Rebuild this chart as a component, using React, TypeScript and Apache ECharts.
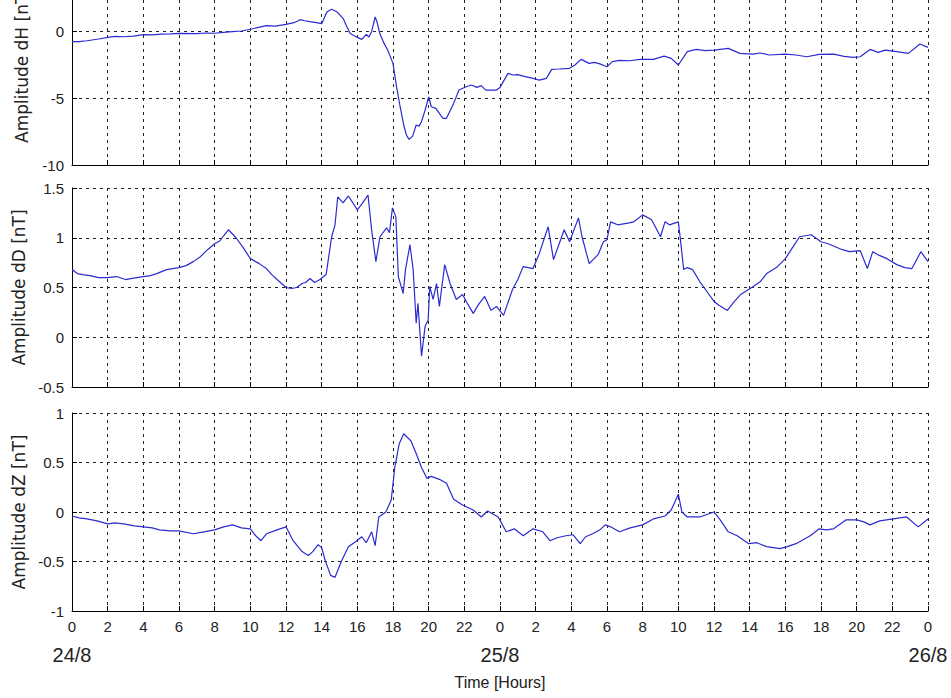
import React, { useEffect, useRef } from "react";
import * as echarts from "echarts";

// [hour since 24/8 00:00, amplitude nT]
const dHSeries: number[][] = [
  [0, -0.75], [0.4, -0.74], [0.84, -0.68], [1.5, -0.55], [2, -0.43], [2.4, -0.35], [2.9, -0.38],
  [3.45, -0.33], [4, -0.22], [4.5, -0.24], [5, -0.18], [5.5, -0.16], [6, -0.13], [7, -0.15],
  [7.5, -0.1], [8, -0.12], [8.5, -0.05], [9, 0], [9.5, 0.05], [10, 0.18], [10.4, 0.3], [10.9, 0.45],
  [11.4, 0.42], [12, 0.55], [12.5, 0.7], [12.8, 0.9], [13.05, 0.82], [13.35, 0.75], [13.7, 0.68],
  [14, 0.6], [14.2, 1.2], [14.3, 1.5], [14.56, 1.68], [14.84, 1.5], [15.2, 1.0], [15.4, 0.4],
  [15.6, -0.13], [16, -0.43], [16.25, -0.58], [16.4, -0.35], [16.5, -0.2], [16.65, -0.4], [16.8, 0],
  [17, 1.1], [17.1, 0.75], [17.26, -0.13], [17.5, -0.88], [17.7, -1.38], [18, -2.38], [18.2, -4.13],
  [18.4, -5.63], [18.6, -7.0], [18.75, -7.75], [18.9, -8.08], [19.1, -7.83], [19.3, -7.0],
  [19.45, -7.1], [19.6, -6.75], [19.8, -5.88], [20, -4.9], [20.15, -5.63], [20.4, -5.75],
  [20.8, -6.5], [21, -6.5], [21.4, -5.38], [21.7, -4.38], [22.1, -4.13], [22.4, -4.0],
  [22.7, -4.18], [22.95, -4.05], [23.2, -4.38], [23.8, -4.38], [24, -4.18], [24.45, -3.13],
  [24.73, -3.25], [25.0, -3.22], [25.3, -3.33], [25.85, -3.5], [26.2, -3.63], [26.6, -3.5],
  [26.9, -2.83], [27.3, -2.8], [27.9, -2.75], [28.2, -2.5], [28.55, -2.08], [29, -2.38],
  [29.3, -2.3], [29.6, -2.42], [30, -2.63], [30.3, -2.25], [30.7, -2.15], [31.26, -2.18],
  [31.85, -2.08], [32.6, -2.08], [33.2, -1.83], [33.6, -2.0], [34, -2.5], [34.5, -1.5], [35, -1.33],
  [35.5, -1.42], [36, -1.38], [36.8, -1.25], [37.45, -1.63], [38.2, -1.68], [38.6, -1.6],
  [39.1, -1.75], [40, -1.68], [40.6, -1.75], [41.2, -1.88], [41.9, -1.7], [42.7, -1.68],
  [43.3, -1.85], [43.8, -1.93], [44.2, -1.88], [44.75, -1.33], [45.2, -1.55], [45.6, -1.38],
  [46.25, -1.5], [46.9, -1.63], [47.55, -0.93], [48, -1.18],
];

const dDSeries: number[][] = [
  [0, 0.68], [0.3, 0.64], [0.6, 0.63], [1, 0.62], [1.5, 0.6], [2, 0.6], [2.5, 0.61], [3, 0.58],
  [3.3, 0.59], [4, 0.61], [4.4, 0.62], [4.75, 0.64], [5.3, 0.68], [6, 0.7], [6.4, 0.72], [6.8, 0.76],
  [7.2, 0.81], [7.6, 0.88], [8, 0.94], [8.3, 0.97], [8.5, 1.02], [8.77, 1.08], [9.2, 1.0], [9.6, 0.9],
  [10, 0.79], [10.5, 0.74], [10.9, 0.69], [11.2, 0.63], [11.5, 0.58], [12, 0.5], [12.3, 0.49],
  [12.6, 0.5], [12.9, 0.54], [13.1, 0.55], [13.35, 0.59], [13.6, 0.55], [13.9, 0.58], [14.25, 0.63],
  [14.56, 1.01], [14.75, 1.13], [14.9, 1.41], [15.05, 1.38], [15.2, 1.35], [15.5, 1.42], [16, 1.28],
  [16.3, 1.35], [16.6, 1.43], [16.8, 1.08], [17.04, 0.76], [17.27, 1.01], [17.64, 1.1], [17.8, 1.05],
  [17.97, 1.3], [18.16, 1.21], [18.3, 0.61], [18.57, 0.44], [18.7, 0.68], [18.95, 0.93], [19.13, 0.68],
  [19.3, 0.14], [19.4, 0.34], [19.6, -0.19], [19.8, 0.11], [19.97, 0.17], [20.06, 0.51], [20.25, 0.38],
  [20.44, 0.54], [20.6, 0.31], [20.9, 0.73], [21.2, 0.54], [21.55, 0.38], [21.9, 0.43], [22.2, 0.33],
  [22.5, 0.24], [22.8, 0.33], [23.14, 0.41], [23.5, 0.27], [23.8, 0.31], [24.2, 0.22], [24.7, 0.48],
  [25.0, 0.58], [25.3, 0.71], [25.85, 0.69], [26.2, 0.84], [26.7, 1.11], [27, 0.78], [27.6, 1.08],
  [27.9, 0.96], [28.4, 1.2], [28.6, 1.01], [29, 0.74], [29.5, 0.83], [29.8, 0.96], [30, 0.98],
  [30.2, 1.16], [30.6, 1.13], [31.25, 1.15], [31.5, 1.16], [32, 1.23], [32.5, 1.18], [33, 1.01],
  [33.25, 1.16], [33.5, 1.13], [34, 1.16], [34.1, 1.01], [34.3, 0.68], [34.5, 0.7], [34.8, 0.68],
  [35.2, 0.56], [35.6, 0.46], [36, 0.36], [36.3, 0.32], [36.75, 0.27], [37.1, 0.35], [37.5, 0.43],
  [38.2, 0.51], [38.6, 0.56], [38.95, 0.64], [39.5, 0.7], [40, 0.79], [40.4, 0.9], [40.8, 1.01],
  [41.45, 1.03], [42, 0.96], [42.4, 0.94], [42.8, 0.91], [43.2, 0.88], [43.6, 0.86], [44.2, 0.87],
  [44.6, 0.69], [44.9, 0.86], [45.3, 0.82], [45.7, 0.79], [46.25, 0.73], [46.7, 0.7], [47.1, 0.69],
  [47.6, 0.86], [48, 0.76],
];

const dZSeries: number[][] = [
  [0, -0.04], [0.4, -0.06], [0.84, -0.07], [1.4, -0.09], [2, -0.12], [2.4, -0.11], [2.9, -0.12],
  [3.5, -0.14], [4, -0.15], [4.5, -0.16], [4.9, -0.18], [5.5, -0.19], [6, -0.19], [6.8, -0.22],
  [7.4, -0.2], [8, -0.18], [8.5, -0.15], [9, -0.13], [9.5, -0.16], [10, -0.17], [10.3, -0.24],
  [10.6, -0.29], [10.9, -0.22], [11.5, -0.18], [12, -0.15], [12.4, -0.29], [12.9, -0.4],
  [13.25, -0.44], [13.5, -0.4], [13.8, -0.33], [14.0, -0.36], [14.2, -0.49], [14.5, -0.64],
  [14.75, -0.66], [15.1, -0.5], [15.5, -0.35], [15.9, -0.3], [16.25, -0.25], [16.5, -0.31],
  [16.8, -0.2], [17, -0.34], [17.2, -0.05], [17.6, 0], [17.9, 0.12], [18.1, 0.45], [18.35, 0.69],
  [18.6, 0.79], [19, 0.72], [19.3, 0.59], [19.6, 0.45], [19.9, 0.34], [20.15, 0.36], [20.6, 0.33],
  [21, 0.29], [21.4, 0.13], [21.9, 0.07], [22.5, 0.02], [22.95, -0.05], [23.3, 0.01], [23.9, -0.05],
  [24.35, -0.2], [24.8, -0.17], [25.3, -0.24], [25.85, -0.17], [26.4, -0.2], [26.8, -0.29],
  [27.2, -0.26], [27.7, -0.24], [28.1, -0.23], [28.5, -0.32], [28.8, -0.25], [29.2, -0.22],
  [29.6, -0.18], [29.9, -0.13], [30.2, -0.15], [30.7, -0.2], [31.3, -0.16], [32, -0.13],
  [32.6, -0.07], [33.25, -0.04], [33.6, 0.02], [34, 0.18], [34.2, 0], [34.5, -0.05], [35.2, -0.05],
  [36, 0], [36.35, -0.08], [36.8, -0.2], [37.3, -0.24], [37.95, -0.32], [38.4, -0.31],
  [38.95, -0.35], [39.7, -0.37], [40.1, -0.35], [40.6, -0.32], [41.4, -0.24], [41.9, -0.17],
  [42.3, -0.18], [42.7, -0.17], [43.4, -0.08], [44, -0.08], [44.4, -0.1], [44.75, -0.13],
  [45.3, -0.09], [46.05, -0.07], [46.8, -0.05], [47.45, -0.15], [48, -0.07],
];

const panelNames = ["Amplitude dH [nT]", "Amplitude dD [nT]", "Amplitude dZ [nT]"];
const yRanges = [
  { min: -10, max: 5, interval: 5 },
  { min: -0.5, max: 1.5, interval: 0.5 },
  { min: -1, max: 1, interval: 0.5 },
];
const dateLabels = ["24/8", "25/8", "26/8"];
const xTitle = "Time [Hours]";

const FONT = "'Liberation Sans', Arial, Helvetica, sans-serif";
const LINE_COLOR = "#2b2bcf";
const CROP = 35; // the reference figure is cut off at the top

export default function App() {
  const ref = useRef<HTMLDivElement>(null);
  useEffect(() => {
    const chart = echarts.init(ref.current!, null, { renderer: "svg" });
    const grids = [
      { left: 72, right: 23, top: CROP - 35, height: 200, outerBoundsMode: "none" },
      { left: 72, right: 23, top: CROP + 188, height: 199, outerBoundsMode: "none" },
      { left: 72, right: 23, top: CROP + 413, height: 198, outerBoundsMode: "none" },
    ];
    const dashed = { show: true, lineStyle: { color: "#222", width: 1, type: [3, 4] as any } };
    const xAxes: any[] = [0, 1, 2].map((i) => ({
      type: "value",
      gridIndex: i,
      min: 0,
      max: 48,
      interval: 2,
      axisLine: { show: true, onZero: false, lineStyle: { color: "#000", width: 1 } },
      axisTick: { show: true, inside: true, length: 5, lineStyle: { color: "#000" } },
      axisLabel: {
        show: i === 2,
        margin: 8,
        fontSize: 15,
        color: "#222",
        fontFamily: FONT,
        formatter: (v: number) => String(v % 24),
      },
      splitLine: dashed,
      name: i === 2 ? xTitle : "",
      nameLocation: "middle",
      nameGap: 63,
      nameTextStyle: { fontSize: 16, color: "#222", fontFamily: FONT },
    }));
    xAxes.push({
      type: "value",
      gridIndex: 2,
      min: 0,
      max: 48,
      interval: 24,
      position: "bottom",
      axisLine: { show: false },
      axisTick: { show: false },
      splitLine: { show: false },
      axisLabel: {
        show: true,
        margin: 34,
        fontSize: 20,
        color: "#222",
        fontFamily: FONT,
        formatter: (v: number) => dateLabels[Math.round(v / 24)],
      },
    });
    const yAxes = [0, 1, 2].map((i) => ({
      type: "value",
      gridIndex: i,
      min: yRanges[i].min,
      max: yRanges[i].max,
      interval: yRanges[i].interval,
      axisLine: { show: true, onZero: false, lineStyle: { color: "#000", width: 1 } },
      axisTick: { show: true, inside: true, length: 5, lineStyle: { color: "#000" } },
      axisLabel: { margin: 8, fontSize: 15, color: "#222", fontFamily: FONT },
      splitLine: dashed,
      name: panelNames[i],
      nameLocation: "middle",
      nameGap: 42,
      nameTextStyle: { fontSize: 17, color: "#222", fontFamily: "'DejaVu Sans', sans-serif" },
    }));
    const datas = [dHSeries, dDSeries, dZSeries];
    chart.setOption({
      animation: false,
      backgroundColor: "#fff",
      grid: grids,
      xAxis: xAxes,
      yAxis: yAxes,
      series: datas.map((d, i) => ({
        type: "line",
        xAxisIndex: i,
        yAxisIndex: i,
        data: d,
        showSymbol: false,
        lineStyle: { color: LINE_COLOR, width: 1.2 },
      })),
    });
    return () => chart.dispose();
  }, []);
  return (
    <div
      style={{ position: "fixed", left: 0, top: 0, width: 951, height: 698, overflow: "hidden", background: "#fff" }}
    >
      <div ref={ref} style={{ position: "absolute", left: 0, top: -CROP, width: 951, height: 698 + CROP }} />
    </div>
  );
}
